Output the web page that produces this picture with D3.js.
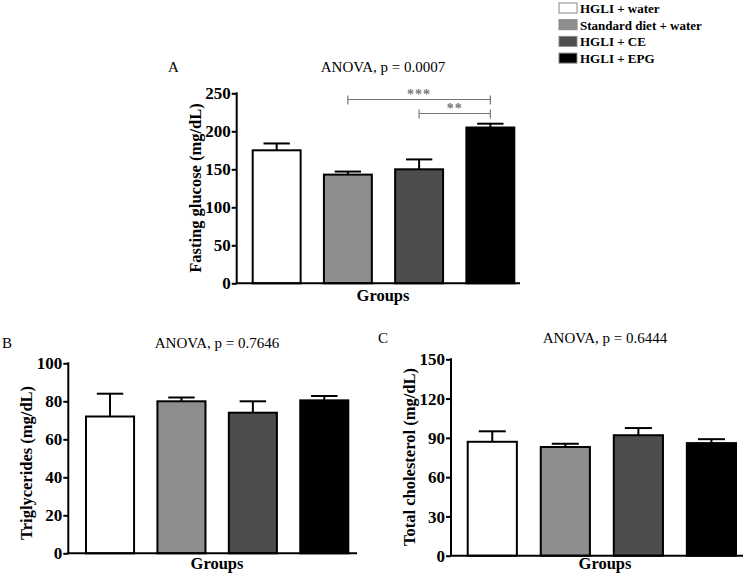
<!DOCTYPE html>
<html><head><meta charset="utf-8">
<script src="https://cdn.jsdelivr.net/npm/d3@7"></script>
<style>body{margin:0;background:#fff}svg{display:block}</style>
</head><body>
<script>
const groups = ["HGLI + water", "Standard diet + water", "HGLI + CE", "HGLI + EPG"];
const colors = ["#ffffff", "#8e8e90", "#4d4d4d", "#000000"];
const glucoseMean = [175, 143, 150, 205];
const glucoseSem = [9, 4, 13, 5];
const tgMean = [72, 80, 74, 80.5];
const tgSem = [12, 2, 6, 2.3];
const cholMean = [87, 83, 92, 86];
const cholSem = [8, 2.5, 5.5, 3];
const glucoseTicks = [0, 50, 100, 150, 200, 250];
const tgTicks = [0, 20, 40, 60, 80, 100];
const cholTicks = [0, 30, 60, 90, 120, 150];

const W = 752, H = 579;
const svg = d3.select("body").append("svg").attr("width", W).attr("height", H);
const serif = "'Liberation Serif','Times New Roman',serif";

function panel(o) {
  const g = svg.append("g");
  const y = d3.scaleLinear().domain([0, o.ticks[o.ticks.length - 1]]).range([o.yb, o.yt]);
  const x = d3.scaleBand().domain(groups).range([o.bx0, o.bx1]).paddingInner(0.327).paddingOuter(0);
  g.selectAll("rect.bar").data(groups).enter().append("rect")
    .attr("x", d => x(d)).attr("width", x.bandwidth())
    .attr("y", (d, i) => y(o.mean[i])).attr("height", (d, i) => y(0) - y(o.mean[i]))
    .attr("fill", (d, i) => colors[i]).attr("stroke", "#000").attr("stroke-width", 2);
  const cw = x.bandwidth() * 0.55;
  groups.forEach((d, i) => {
    const cx = x(d) + x.bandwidth() / 2;
    g.append("line").attr("x1", cx).attr("x2", cx).attr("y1", y(o.mean[i])).attr("y2", y(o.mean[i] + o.sem[i]))
      .attr("stroke", "#000").attr("stroke-width", 2);
    g.append("line").attr("x1", cx - cw / 2).attr("x2", cx + cw / 2)
      .attr("y1", y(o.mean[i] + o.sem[i])).attr("y2", y(o.mean[i] + o.sem[i]))
      .attr("stroke", "#000").attr("stroke-width", 2);
  });
  const ax = g.append("g").attr("transform", `translate(${o.ax},0)`)
    .call(d3.axisLeft(y).tickValues(o.ticks).tickSize(5).tickPadding(1).tickFormat(d3.format("d")));
  ax.select(".domain").attr("stroke", "#000").attr("stroke-width", 2).attr("d", `M0,${o.yt - 1}V${o.yb}`);
  ax.selectAll(".tick line").attr("stroke", "#000").attr("stroke-width", 2);
  ax.selectAll(".tick text").attr("fill", "#000").attr("font-family", serif)
    .attr("font-weight", "bold").attr("font-size", 17).attr("dy", "0.33em");
  g.append("line").attr("x1", o.ax - 1).attr("x2", o.axEnd).attr("y1", y(0)).attr("y2", y(0))
    .attr("stroke", "#000").attr("stroke-width", 2);
  g.append("text").attr("x", o.letterX).attr("y", o.titleY).text(o.letter)
    .attr("font-family", serif).attr("font-size", 15);
  g.append("text").attr("x", o.titleX).attr("y", o.titleY).attr("text-anchor", "middle").text(o.title)
    .attr("font-family", serif).attr("font-size", 15);
  g.append("text").attr("x", o.titleX).attr("y", o.groupsY).attr("text-anchor", "middle").text("Groups")
    .attr("font-family", serif).attr("font-size", 16.5).attr("font-weight", "bold");
  g.append("text").attr("transform", `translate(${o.ylx},${o.yly}) rotate(-90)`).attr("text-anchor", "middle")
    .text(o.ylabel).attr("font-family", serif).attr("font-size", 16.5).attr("font-weight", "bold");
  return {g, x, y};
}

const A = panel({
  mean: glucoseMean, sem: glucoseSem, ticks: glucoseTicks,
  ax: 236.7, yt: 93.3, yb: 283.3, bx0: 252.7, bx1: 514.3, axEnd: 520,
  letter: "A", letterX: 168, title: "ANOVA, p = 0.0007", titleX: 383, titleY: 72, groupsY: 301,
  ylabel: "Fasting glucose (mg/dL)", ylx: 201, yly: 188
});
panel({
  mean: tgMean, sem: tgSem, ticks: tgTicks,
  ax: 68.3, yt: 363.3, yb: 553.3, bx0: 86, bx1: 348.3, axEnd: 357,
  letter: "B", letterX: 2, title: "ANOVA, p = 0.7646", titleX: 217, titleY: 348, groupsY: 569,
  ylabel: "Triglycerides (mg/dL)", ylx: 32, yly: 463
});
panel({
  mean: cholMean, sem: cholSem, ticks: cholTicks,
  ax: 451, yt: 359.3, yb: 555.7, bx0: 467.7, bx1: 736, axEnd: 743,
  letter: "C", letterX: 378, title: "ANOVA, p = 0.6444", titleX: 605, titleY: 343, groupsY: 569,
  ylabel: "Total cholesterol (mg/dL)", ylx: 415, yly: 457
});

const sigs = [
  {from: 1, to: 3, level: 99.5, label: "***"},
  {from: 2, to: 3, level: 113.5, label: "**"}
];
const bc = i => A.x(groups[i]) + A.x.bandwidth() / 2;
sigs.forEach(s => {
  const gg = A.g.append("g").attr("stroke", "#777").attr("stroke-width", 1.2);
  gg.append("line").attr("x1", bc(s.from)).attr("x2", bc(s.to)).attr("y1", s.level).attr("y2", s.level);
  gg.append("line").attr("x1", bc(s.from)).attr("x2", bc(s.from)).attr("y1", s.level - 4).attr("y2", s.level + 5);
  gg.append("line").attr("x1", bc(s.to)).attr("x2", bc(s.to)).attr("y1", s.level - 4).attr("y2", s.level + 5);
  A.g.append("text").attr("x", (bc(s.from) + bc(s.to)) / 2).attr("y", s.level - 1)
    .attr("text-anchor", "middle").attr("fill", "#777").attr("font-family", serif)
    .attr("font-weight", "bold").attr("font-size", 14).attr("letter-spacing", 1).text(s.label);
});

const lg = svg.append("g").attr("transform", "translate(559,3)");
groups.forEach((d, i) => {
  const row = lg.append("g").attr("transform", `translate(0,${i * 16.7})`);
  row.append("rect").attr("x", 0).attr("y", 0).attr("width", 18).attr("height", 10)
    .attr("fill", colors[i]).attr("stroke", "#888").attr("stroke-width", 1);
  row.append("text").attr("x", 21).attr("y", 10).text(d)
    .attr("font-family", serif).attr("font-weight", "bold").attr("font-size", 13);
});
</script>
</body></html>
